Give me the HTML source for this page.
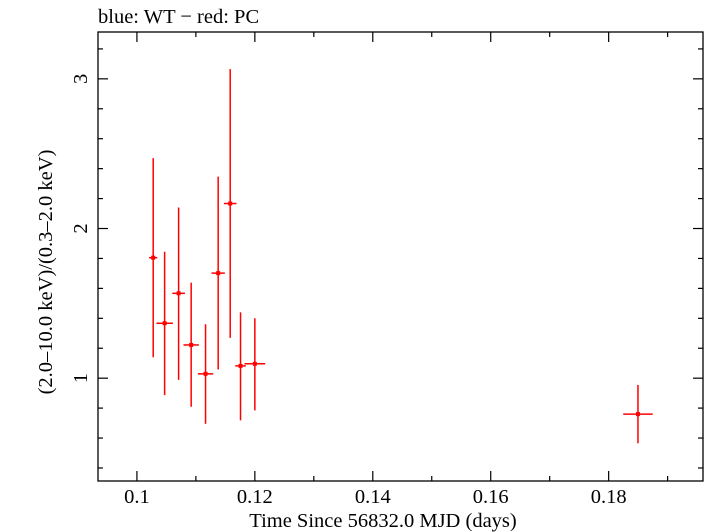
<!DOCTYPE html>
<html><head><meta charset="utf-8"><style>
html,body{margin:0;padding:0;background:#fff;}
svg{display:block;font-family:"Liberation Serif",serif;}
</style></head><body>
<svg id="chart" width="705" height="532" viewBox="0 0 705 532">
<text x="98" y="23" font-size="20.5">blue: WT − red: PC</text>
<rect x="98" y="32" width="605" height="449" fill="none" stroke="#000" stroke-width="1.3"/>
<g id="ticks"></g>
<g id="marks"></g>
<text x="383" y="527" font-size="20.5" text-anchor="middle">Time Since 56832.0 MJD (days)</text>
<text transform="translate(52,272) rotate(-90)" font-size="20.5" text-anchor="middle">(2.0–10.0 keV)/(0.3–2.0 keV)</text>
</svg>
<script>
const times=[0.10276,0.1047,0.10707,0.1092,0.11164,0.11378,0.11582,0.11757,0.1200,0.18497];
const timeErr=[0.0007,0.0014,0.00107,0.0013,0.0013,0.00113,0.00107,0.0009,0.00175,0.0025];
const ratios=[1.805,1.367,1.567,1.222,1.029,1.702,2.167,1.082,1.096,0.76];
const ratioHi=[2.47,1.845,2.14,1.638,1.36,2.347,3.065,1.44,1.40,0.955];
const ratioLo=[1.14,0.887,0.989,0.809,0.695,1.058,1.269,0.718,0.785,0.565];
const xTickLabels=["0.1","0.12","0.14","0.16","0.18"];
const yTickLabels=["1","2","3"];
const L=98,R=703,T=32,B=481;
const X0=0.0934,X1=0.1960,Y0=0.313,Y1=3.313;
const xs=v=>L+(v-X0)/(X1-X0)*(R-L);
const ys=v=>B-(v-Y0)/(Y1-Y0)*(B-T);
const NS="http://www.w3.org/2000/svg";
const tg=document.getElementById('ticks'),mg=document.getElementById('marks');
function line(p,x1,y1,x2,y2,c,w){const l=document.createElementNS(NS,'line');l.setAttribute('x1',x1);l.setAttribute('y1',y1);l.setAttribute('x2',x2);l.setAttribute('y2',y2);l.setAttribute('stroke',c);l.setAttribute('stroke-width',w);p.appendChild(l);return l;}
for(let i=0;i<=10;i++){const v=0.1+i*0.01;const x=xs(v);if(x>R)break;const maj=i%2===0;const len=maj?10:5;
 let a=line(tg,x,B,x,B-len,'#000',1.2);


 let b=line(tg,x,T,x,T+len,'#000',1.2);

}
xTickLabels.forEach(s=>{const t=document.createElementNS(NS,'text');t.setAttribute('x',xs(parseFloat(s)));t.setAttribute('y',503);t.setAttribute('font-size','20.5');t.setAttribute('text-anchor','middle');t.textContent=s;


tg.appendChild(t);});
for(let i=2;i<=16;i++){const v=i*0.2;const y=ys(v);if(y<T||y>B)continue;const maj=i%5===0;const len=maj?10:5;
 let a=line(tg,L,y,L+len,y,'#000',1.2);


 let b=line(tg,R,y,R-len,y,'#000',1.2);

}
yTickLabels.forEach(s=>{const t=document.createElementNS(NS,'text');const y=ys(parseFloat(s));t.setAttribute('transform','translate(87,'+y+') rotate(-90)');t.setAttribute('font-size','20.5');t.setAttribute('text-anchor','middle');t.textContent=s;


tg.appendChild(t);});
times.forEach((tv,i)=>{const g=document.createElementNS(NS,'g');


 const x=xs(tv),y=ys(ratios[i]);
 line(g,x,ys(ratioHi[i]),x,ys(ratioLo[i]),'#f00',1.5);
 line(g,xs(tv-timeErr[i]),y,xs(tv+timeErr[i]),y,'#f00',1.5);
 const c=document.createElementNS(NS,'rect');c.setAttribute('x',x-2);c.setAttribute('y',y-2);c.setAttribute('width',4);c.setAttribute('height',4);c.setAttribute('fill','#f00');g.appendChild(c);
 mg.appendChild(g);});
</script>
</body></html>
